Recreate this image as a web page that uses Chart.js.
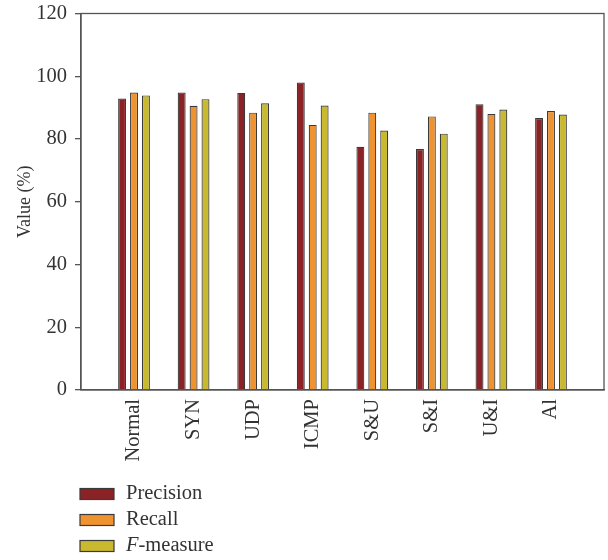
<!DOCTYPE html>
<html>
<head>
<meta charset="utf-8">
<script src="https://cdn.jsdelivr.net/npm/chart.js@4/dist/chart.umd.min.js"></script>
<style>
  body { margin: 0; background: #fff; }
</style>
</head>
<body>
<canvas id="chart" width="608" height="560"></canvas>
<script>
var categories = ['Normal', 'SYN', 'UDP', 'ICMP', 'S&U', 'S&I', 'U&I', 'Al'];
var precision = [92.9, 94.8, 94.7, 98.0, 77.5, 76.8, 91.1, 86.7];
var recall    = [94.8, 90.6, 88.4, 84.5, 88.4, 87.2, 88.0, 88.9];
var fmeasure  = [93.9, 92.7, 91.4, 90.7, 82.7, 81.7, 89.4, 87.8];
var yTicks = [0, 20, 40, 60, 80, 100, 120];

var FONT = 'Liberation Serif';
var TEXT = '#333';
var LINE = '#555';

var toPoints = (arr) => arr.map((v, i) => ({ x: i, y: v }));

// Rahmen um die Zeichenfläche
var framePlugin = {
    id: 'frame',
    afterDraw: (chart) => {
        var a = chart.chartArea;
        var ctx = chart.ctx;
        ctx.save();
        ctx.strokeStyle = LINE;
        ctx.lineWidth = 1.3;
        ctx.strokeRect(a.left, a.top, a.right - a.left, a.bottom - a.top);
        ctx.restore();
    }
};

// Legende untereinander, "F" kursiv
var legendPlugin = {
    id: 'stackedLegend',
    afterDraw: (chart) => {
        var ctx = chart.ctx;
        ctx.save();
        chart.data.datasets.forEach((ds, i) => {
            var cy = 494 + i * 26;
            ctx.fillStyle = ds.backgroundColor;
            ctx.fillRect(80, cy - 5.5, 34, 11);
            ctx.strokeStyle = '#3a3a3a';
            ctx.lineWidth = 1.2;
            ctx.strokeRect(80, cy - 5.5, 34, 11);
            ctx.fillStyle = TEXT;
            ctx.textBaseline = 'middle';
            ctx.textAlign = 'left';
            var x = 126;
            var text = ds.label;
            if (text.indexOf('F-') === 0) {
                ctx.font = 'italic 20.5px "' + FONT + '"';
                ctx.fillText('F', x, cy);
                x += ctx.measureText('F').width;
                text = text.substr(1);
            }
            ctx.font = '20.5px "' + FONT + '"';
            ctx.fillText(text, x, cy);
        });
        ctx.restore();
    }
};

var createBarChart = (canvasId) => {
    var context = document.getElementById(canvasId).getContext('2d');
    var barStyle = { borderColor: '#3a3a3a', borderWidth: 1.2, categoryPercentage: 0.6, barPercentage: 0.667 };
    var data = {
        datasets: [
            Object.assign({ label: 'Precision', data: toPoints(precision), backgroundColor: '#8b2226' }, barStyle),
            Object.assign({ label: 'Recall', data: toPoints(recall), backgroundColor: '#ef9230' }, barStyle),
            Object.assign({ label: 'F-measure', data: toPoints(fmeasure), backgroundColor: '#c8b92f' }, barStyle)
        ]
    };
    var config = {
        type: 'bar',
        data: data,
        options: {
            responsive: false,
            animation: false,
            layout: { padding: { top: 13.5, right: 4, left: 0, bottom: 0 } },
            plugins: {
                legend: { display: false },
                tooltip: { enabled: false }
            },
            scales: {
                x: {
                    type: 'linear',
                    offset: false,
                    min: -0.89,
                    max: 7.89,
                    afterBuildTicks: (s) => { s.ticks = categories.map((c, i) => ({ value: i })); },
                    afterFit: (s) => { s.height = 170; s.paddingLeft = 0; s.paddingRight = 0; },
                    grid: { display: false, drawTicks: false },
                    border: { color: LINE, width: 1.3 },
                    ticks: {
                        autoSkip: false,
                        minRotation: 90,
                        maxRotation: 90,
                        padding: 9,
                        color: TEXT,
                        font: { family: FONT, size: 20.5 },
                        callback: (v) => categories[v]
                    }
                },
                y: {
                    min: 0,
                    max: 120,
                    afterBuildTicks: (s) => { s.ticks = yTicks.map((v) => ({ value: v })); },
                    afterFit: (s) => { s.width = 81; s.paddingTop = 0; s.paddingBottom = 0; },
                    grid: { drawOnChartArea: false, tickLength: 6, color: LINE, lineWidth: 1.3 },
                    border: { color: LINE, width: 1.3 },
                    ticks: {
                        padding: 8,
                        color: TEXT,
                        font: { family: FONT, size: 20.5 }
                    },
                    title: {
                        display: true,
                        text: 'Value (%)',
                        color: TEXT,
                        font: { family: FONT, size: 18 },
                        padding: { top: 14, bottom: 0 }
                    }
                }
            }
        },
        plugins: [framePlugin, legendPlugin]
    };
    return new Chart(context, config);
};

createBarChart('chart');
</script>
</body>
</html>
